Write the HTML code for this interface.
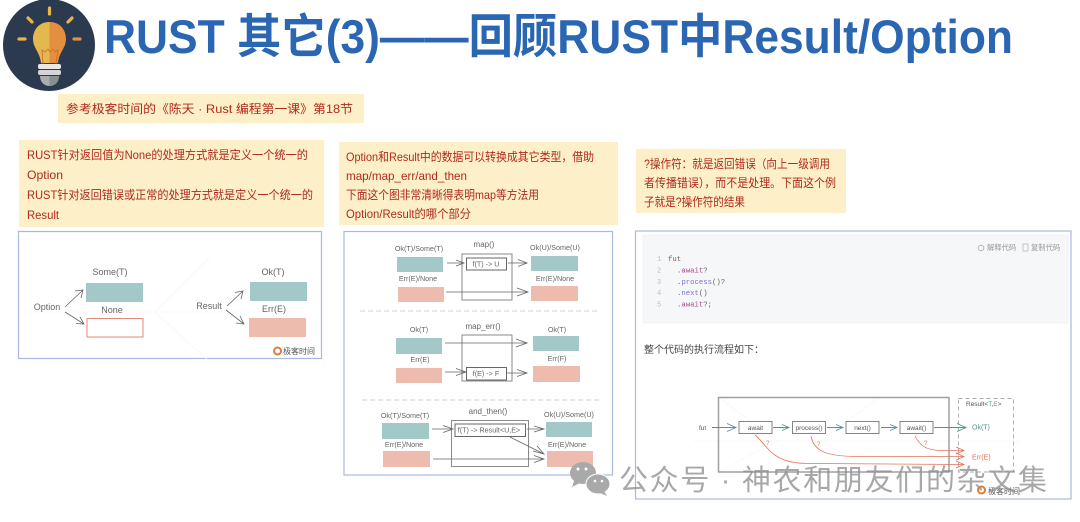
<!DOCTYPE html>
<html><head><meta charset="utf-8">
<style>
html,body{margin:0;padding:0;background:#fff;width:1080px;height:522px;overflow:hidden}
svg{display:block;filter:blur(.3px)}
text{font-family:"Liberation Sans","Noto Sans CJK SC",sans-serif}
.n{font-size:12px;fill:#ae2a1e}
.l{font-size:7.2px;fill:#666;text-anchor:middle}
.l2{font-size:8px;fill:#666;text-anchor:middle}
.m{font-size:9px;fill:#666;text-anchor:middle}
.c{font-family:"Liberation Mono",monospace;font-size:7.3px;fill:#666}
.ln{font-family:"Liberation Mono",monospace;font-size:7px;fill:#bbb}
.t{fill:#a2c8c8}.r{fill:#eebcae}
.o{fill:none;stroke:#8a8a8a;stroke-width:1}
.i{fill:#fff;stroke:#666;stroke-width:1}
.a{fill:none;stroke:#666;stroke-width:.8}
.g{fill:none;stroke:#4f9499;stroke-width:.9}
.e{fill:none;stroke:#e0735c;stroke-width:.8}
.f{fill:none;stroke:#f6f6f6;stroke-width:.7}
.b{fill:none;stroke:#a9b9e0;stroke-width:1.2}
</style></head><body>
<svg width="1080" height="522" viewBox="0 0 1080 522" xmlns="http://www.w3.org/2000/svg">
<rect width="1080" height="522" fill="#fff"/>

<!-- bulb -->
<circle cx="49" cy="45" r="46" fill="#2b3a4e"/>
<path d="M49.5 22C38 22 33 31 33 39c0 9 7 13 8 24h8.500z" fill="#e3b84f"/>
<path d="M49.5 22C61 22 66 31 66 39c0 9-7 13-8 24h-8.500z" fill="#e38f3f"/>
<path d="M43 64l-1-14 3 2 3-3 2 3 3-3 2 3 3-2-2 14" fill="none" stroke="#cf6a2c" stroke-width=".8"/>
<rect x="38" y="64" width="23" height="5" rx="2" fill="#e8e8e8"/>
<rect x="38" y="70" width="23" height="5" rx="2" fill="#d5d5d5"/>
<path d="M40 76h19c0 6-4 10-9.5 10S40 82 40 76z" fill="#a8adb0"/>
<path d="M49.5 76H59c0 6-4 10-9.5 10z" fill="#87918f"/>
<g stroke="#e9b44c" stroke-width="3.2" stroke-linecap="round">
<path d="M49.5 8v6M28 18l4 4M72 18l-4 4M19 39h6"/>
<path d="M74 39h6" stroke="#e38f3f"/>
</g>

<!-- title -->
<text x="104" y="53" font-size="47" font-weight="700" fill="#2b66b3" textLength="909" lengthAdjust="spacingAndGlyphs">RUST 其它(3)——回顾RUST中Result/Option</text>

<!-- reference note -->
<rect x="58" y="94" width="306" height="29" fill="#fdf0c8"/>
<text x="66" y="113" class="n" textLength="287" lengthAdjust="spacingAndGlyphs">参考极客时间的《陈天 · Rust 编程第一课》第18节</text>

<!-- column 1 -->
<rect x="19" y="140" width="305" height="87" fill="#fdf0c8"/>
<text x="27" y="159" class="n" textLength="281" lengthAdjust="spacingAndGlyphs">RUST针对返回值为None的处理方式就是定义一个统一的</text>
<text x="27" y="179" class="n" textLength="36" lengthAdjust="spacingAndGlyphs">Option</text>
<text x="27" y="199" class="n" textLength="286" lengthAdjust="spacingAndGlyphs">RUST针对返回错误或正常的处理方式就是定义一个统一的</text>
<text x="27" y="219" class="n" textLength="32" lengthAdjust="spacingAndGlyphs">Result</text>
<rect x="18.5" y="231.5" width="303" height="127" fill="#fff" class="b"/>
<path class="f" d="M20 312H300M155 312l55-55M155 312l55 50M210 257l-30 30"/>
<text x="110" y="275" class="m">Some(T)</text>
<rect x="86" y="283" width="57" height="19" class="t"/>
<text x="112" y="313" class="m">None</text>
<rect x="87" y="318.500" width="56" height="18.500" fill="#fff" stroke="#e08a75" stroke-width="1"/>
<text x="47" y="310" class="m">Option</text>
<path class="a" d="M65 307L83 290M75 291L83 290L81 298M65 312L84 324M76 323.500L84 324L80 317"/>
<text x="209" y="309" class="m">Result</text>
<text x="273" y="275" class="m">Ok(T)</text>
<rect x="250" y="282" width="57" height="19" class="t"/>
<text x="274" y="312" class="m">Err(E)</text>
<rect x="249" y="318" width="57" height="19" class="r"/>
<path class="a" d="M227 306L243 291M235 292.500L243 291L241 299M226 310L244 324M236 323L244 324L240 316"/>
<circle cx="277.500" cy="351" r="3.500" fill="none" stroke="#e07b3c" stroke-width="2"/>
<text x="283" y="354" font-size="8" fill="#555">极客时间</text>

<!-- column 2 -->
<rect x="339" y="142" width="279" height="83" fill="#fdf0c8"/>
<text x="346" y="161" class="n" textLength="248" lengthAdjust="spacingAndGlyphs">Option和Result中的数据可以转换成其它类型，借助</text>
<text x="346" y="180" class="n" textLength="121" lengthAdjust="spacingAndGlyphs">map/map_err/and_then</text>
<text x="346" y="199" class="n" textLength="193" lengthAdjust="spacingAndGlyphs">下面这个图非常清晰得表明map等方法用</text>
<text x="346" y="218" class="n" textLength="125" lengthAdjust="spacingAndGlyphs">Option/Result的哪个部分</text>
<rect x="344" y="231.500" width="268.500" height="243.500" fill="#fff" class="b"/>

<!-- map -->
<text x="484" y="247" class="l2">map()</text>
<text x="419" y="251" class="l">Ok(T)/Some(T)</text>
<rect x="397" y="257" width="46" height="15" class="t"/>
<text x="418" y="281" class="l">Err(E)/None</text>
<rect x="398" y="287" width="46" height="15" class="r"/>
<rect x="462" y="254" width="50" height="46" class="o"/>
<rect x="466.500" y="258" width="40" height="12" class="i"/>
<text x="486" y="266.500" class="l">f(T) -&gt; U</text>
<text x="555" y="250" class="l">Ok(U)/Some(U)</text>
<rect x="531" y="256" width="47" height="15" class="t"/>
<text x="555" y="281" class="l">Err(E)/None</text>
<rect x="531" y="286" width="47" height="15" class="r"/>
<path class="a" d="M447 263H464M456 260L464 263L456 266M508 263H527M518 259.500L527 263L518 266.500M446 292H528M517 288L528 292L517 296"/>
<path d="M360 311H600" stroke="#c4c4c4" stroke-width=".7" stroke-dasharray="5 3" fill="none"/>

<!-- map_err -->
<text x="483" y="329" class="l2">map_err()</text>
<text x="419" y="332" class="l">Ok(T)</text>
<rect x="396" y="338" width="46" height="16" class="t"/>
<text x="420" y="362" class="l">Err(E)</text>
<rect x="396" y="368" width="46" height="15" class="r"/>
<rect x="462" y="335" width="50" height="46" class="o"/>
<rect x="466.500" y="367.500" width="40" height="12.500" class="i"/>
<text x="486" y="376" class="l">f(E) -&gt; F</text>
<text x="557" y="332" class="l">Ok(T)</text>
<rect x="533" y="336" width="46" height="15" class="t"/>
<text x="557" y="361" class="l">Err(F)</text>
<rect x="533" y="366" width="47" height="16" class="r"/>
<path class="a" d="M445 343H527M516 339L527 343L516 347M445 372H466M456 368.500L466 372L456 375.500M506 373H527M517 369.500L527 373L517 376.500"/>
<path d="M362 400H602" stroke="#c4c4c4" stroke-width=".7" stroke-dasharray="5 3" fill="none"/>

<!-- and_then -->
<text x="488" y="414" class="l2">and_then()</text>
<text x="405" y="418" class="l">Ok(T)/Some(T)</text>
<rect x="382" y="423" width="47" height="16" class="t"/>
<text x="404" y="447" class="l">Err(E)/None</text>
<rect x="383" y="451" width="47" height="16" class="r"/>
<rect x="451.500" y="420.500" width="77" height="46" class="o"/>
<rect x="455" y="424" width="70.500" height="12.500" class="i"/>
<text x="489" y="432.500" class="l">f(T) -&gt; Result&lt;U,E&gt;</text>
<text x="569" y="417" class="l">Ok(U)/Some(U)</text>
<rect x="546" y="422" width="46" height="15" class="t"/>
<text x="567" y="447" class="l">Err(E)/None</text>
<rect x="547" y="451" width="46" height="16" class="r"/>
<path class="a" d="M432 429H453M443 425.500L453 429L443 432.500M527 429H544M534 426L544 429L534 432M510 437L544 454M533 451L544 454L537 446M433 459H544M534 455.500L544 459L534 462.500"/>

<!-- column 3 -->
<rect x="636" y="149" width="210" height="64" fill="#fdf0c8"/>
<text x="644" y="168" class="n" textLength="186" lengthAdjust="spacingAndGlyphs">?操作符：就是返回错误（向上一级调用</text>
<text x="644" y="187" class="n" textLength="192" lengthAdjust="spacingAndGlyphs">者传播错误），而不是处理。下面这个例</text>
<text x="644" y="206" class="n" textLength="101" lengthAdjust="spacingAndGlyphs">子就是?操作符的结果</text>
<rect x="635.500" y="231" width="435.500" height="268" fill="#fff" class="b"/>
<rect x="643" y="235" width="425" height="88" fill="#f6f7f9" stroke="#eeeff1" stroke-width=".6"/>
<text x="987" y="250" font-size="7.300" fill="#999">解释代码</text>
<text x="1031" y="250" font-size="7.300" fill="#999">复制代码</text>
<circle cx="981" cy="248" r="2.800" fill="none" stroke="#aaa" stroke-width=".8"/>
<rect x="1023" y="244" width="5" height="7" fill="none" stroke="#bbb" stroke-width=".8"/>
<text x="657" y="261" class="ln">1</text><text x="657" y="272.500" class="ln">2</text><text x="657" y="284" class="ln">3</text><text x="657" y="295" class="ln">4</text><text x="657" y="306.500" class="ln">5</text>
<text x="668" y="261" class="c">fut</text>
<text x="677" y="272.500" class="c">.<tspan fill="#a4487e">await</tspan>?</text>
<text x="677" y="284" class="c">.<tspan fill="#7a70cf">process</tspan>()?</text>
<text x="677" y="295" class="c">.<tspan fill="#7a70cf">next</tspan>()</text>
<text x="677" y="306.500" class="c">.<tspan fill="#a4487e">await</tspan>?;</text>
<text x="644" y="353" font-size="10" fill="#444">整个代码的执行流程如下：</text>

<path class="f" d="M693 441H1020M718 397l60 44-60 31M880 397l-60 44 60 31"/>
<rect x="718.500" y="397.500" width="230.500" height="74.500" fill="none" stroke="#a0a0a0" stroke-width="1.500"/>
<rect x="958.500" y="398.500" width="55" height="73.500" fill="none" stroke="#aaa" stroke-width=".9" stroke-dasharray="4 3"/>
<text x="966" y="406" font-size="6.500" fill="#555">Result&lt;<tspan fill="#4f9499">T</tspan>,<tspan fill="#e0735c">E</tspan>&gt;</text>
<text x="699" y="430" font-size="6.500" fill="#555">fut</text>
<g fill="#fff" stroke="#666" stroke-width=".8">
<rect x="739" y="421.500" width="33" height="12"/>
<rect x="792.500" y="421.500" width="33" height="12"/>
<rect x="846" y="421.500" width="33" height="12"/>
<rect x="900" y="421.500" width="33" height="12"/>
</g>
<g font-size="6.500" fill="#555" text-anchor="middle">
<text x="755.500" y="430">await</text>
<text x="809" y="430">process()</text>
<text x="862.500" y="430">next()</text>
<text x="916.500" y="430">await()</text>
</g>
<path class="g" d="M712 427.500H736M727 423.500L736 427.500L727 431.500M773 427.500H789M782 424.500L789 427.500L782 430.500M827 427.500H843M836 424.500L843 427.500L836 430.500M881 427.500H897M890 424.500L897 427.500L890 430.500M934 427.500H966M957 423.500L966 427.500L957 431.500"/>
<text x="972" y="429.500" font-size="7" fill="#4f9499">Ok(T)</text>
<text x="972" y="459.500" font-size="7" fill="#e0735c">Err(E)</text>
<path class="e" d="M755 435C768 445 770 464 810 463.500L964 464.500M956 461L964 464.500L956 468"/>
<path class="e" d="M811 436C814 452 828 456 855 456.500L964 456.500M956 453L964 456.500L956 460"/>
<path class="e" d="M915 436C920 446 926 450 940 450.500H964M956 447L964 450.500L956 454"/>
<g font-size="6" fill="#e0735c"><text x="766" y="445">?</text><text x="817" y="446">?</text><text x="924" y="445">?</text></g>
<circle cx="981.500" cy="490" r="3.500" fill="none" stroke="#e07b3c" stroke-width="2"/>
<text x="988" y="494" font-size="8" fill="#555">极客时间</text>

<!-- watermark -->
<g fill="#a9a9a9">
<ellipse cx="583" cy="473" rx="13" ry="11"/>
<path d="M574 481l-2 6 8-4z"/>
<ellipse cx="598" cy="484" rx="12" ry="10" stroke="#fff" stroke-width="1"/>
<path d="M604 491l3 5-7-3z"/>
</g>
<g fill="#fff"><circle cx="578" cy="469" r="1.500"/><circle cx="586" cy="469" r="1.500"/><circle cx="595" cy="481" r="1.300"/><circle cx="602" cy="481" r="1.300"/></g>
<text x="619" y="490" font-size="29" fill="#8f8f8f" fill-opacity=".78" textLength="428" lengthAdjust="spacing">公众号 · 神农和朋友们的杂文集</text>
</svg>
</body></html>
